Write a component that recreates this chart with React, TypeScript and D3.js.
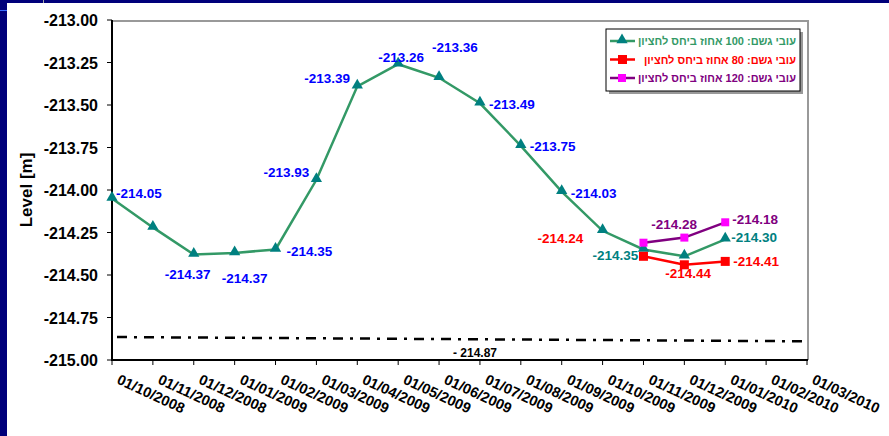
import React from "react";
import * as d3 from "d3";

const dates = [
  "01/10/2008", "01/11/2008", "01/12/2008", "01/01/2009", "01/02/2009", "01/03/2009",
  "01/04/2009", "01/05/2009", "01/06/2009", "01/07/2009", "01/08/2009", "01/09/2009",
  "01/10/2009", "01/11/2009", "01/12/2009", "01/01/2010", "01/02/2010", "01/03/2010",
];
const yTicks = [-213.0, -213.25, -213.5, -213.75, -214.0, -214.25, -214.5, -214.75, -215.0];

// series 100% (green)
const green100 = [
  -214.05, -214.22, -214.38, -214.37, -214.35, -213.94, -213.39, -213.26, -213.34,
  -213.49, -213.74, -214.01, -214.24, -214.35, -214.39, -214.29,
];
const greenLabels = [
  "-214.05", "", "-214.37", "-214.37", "-214.35", "-213.93", "-213.39", "-213.26", "-213.36",
  "-213.49", "-213.75", "-214.03", "-214.24", "-214.35", "", "-214.30",
];
// series 80% (red) and 120% (purple) start at 01/11/2009
const red80 = [-214.39, -214.44, -214.42];
const redLabels = ["", "-214.44", "-214.41"];
const purple120 = [-214.31, -214.28, -214.19];
const purpleLabels = ["", "-214.28", "-214.18"];
const scenarioStart = 13;

const refLevel = [-214.865, -214.89];
const refLabel = "- 214.87";

const legendLabels = [
  "עובי גשם: 100 אחוז ביחס לחציון",
  "עובי גשם: 80 אחוז ביחס לחציון",
  "עובי גשם: 120 אחוז ביחס לחציון",
];

// label offsets (style), relative to marker
const greenOff: [number, number, string][] = [
  [4, -1, "#0000ff"], [0, 0, "#0000ff"], [-29, 24, "#0000ff"], [-13, 30, "#0000ff"], [11, 6, "#0000ff"],
  [-53, -3, "#0000ff"], [-53, -3, "#0000ff"], [-20, -2, "#0000ff"], [-7, -26, "#0000ff"],
  [9, 6, "#0000ff"], [9, 5, "#0000ff"], [9, 6, "#0000ff"], [-65, 12, "#ff0000"],
  [-51, 10, "#008080"], [0, 0, "#008080"], [6, 3, "#008080"],
];
const redOff: [number, number][] = [[0, 0], [-19, 13], [8, 5]];
const purpleOff: [number, number][] = [[0, 0], [-33, -9], [7, 2]];

const W = 889, H = 436;
const x = d3.scalePoint<string>().domain(dates).range([112, 807]);
const y = d3.scaleLinear().domain([-215, -213]).range([360, 20]);
const line = d3.line<[number, number]>().x(d => d[0]).y(d => d[1]);
const FONT = "Arial, 'Liberation Sans', sans-serif";

export default function App() {
  const gPts: [number, number][] = green100.map((v, i) => [x(dates[i])!, y(v)]);
  const rPts: [number, number][] = red80.map((v, i) => [x(dates[scenarioStart + i])!, y(v)]);
  const pPts: [number, number][] = purple120.map((v, i) => [x(dates[scenarioStart + i])!, y(v)]);
  const refPts: [number, number][] = [
    [x(dates[0])! + 5, y(refLevel[0])],
    [x(dates[dates.length - 1])! - 2, y(refLevel[1])],
  ];
  const tri = d3.symbol().type(d3.symbolTriangle).size(55)()!;
  const x0 = x(dates[0])!, x1 = x(dates[dates.length - 1])!;

  return (
    <svg width={W} height={H} style={{ position: "absolute", left: 0, top: 0 }} fontFamily={FONT}>
      <rect x={0} y={0} width={W} height={H} fill="#00007a" />
      <rect x={7} y={3} width={W - 7} height={H - 3} fill="#ffffff" />
      <line x1={0} x2={7} y1={10.5} y2={10.5} stroke="#3a6cff" strokeWidth={1} />
      <line x1={43.5} x2={43.5} y1={0} y2={3} stroke="#aaaaaa" strokeWidth={1} />

      {/* plot frame */}
      <line x1={x0} x2={x1 + 1} y1={21} y2={21} stroke="#999" strokeWidth={2} />
      <line x1={x1 + 1} x2={x1 + 1} y1={20} y2={360} stroke="#999" strokeWidth={2} />

      {/* y axis */}
      <line x1={x0} x2={x0} y1={20} y2={361} stroke="#000" strokeWidth={2} />
      {yTicks.map(t => (
        <g key={t}>
          <line x1={107} x2={x0} y1={y(t)} y2={y(t)} stroke="#000" strokeWidth={1} />
          <text x={98} y={y(t) + 6} textAnchor="end" fontSize={16} fontWeight="bold">{t.toFixed(2)}</text>
        </g>
      ))}
      <text transform={`translate(32,${190}) rotate(-90)`} textAnchor="middle" fontSize={17} fontWeight="bold">Level [m]</text>

      {/* x axis */}
      <line x1={x0} x2={x1 + 1} y1={360} y2={360} stroke="#000" strokeWidth={2} />
      {dates.map(d => (
        <g key={d}>
          <line x1={x(d)!} x2={x(d)!} y1={360} y2={365} stroke="#000" strokeWidth={1} />
          <text transform={`translate(${x(d)! + 4},${383}) rotate(25)`} fontSize={14.5} fontWeight="bold">{d}</text>
        </g>
      ))}

      {/* reference level */}
      <path d={line(refPts)!} stroke="#000" strokeWidth={2.5} fill="none" strokeDasharray="10 7 3 7" />
      <text x={453} y={357} fontSize={12} fontWeight="bold">{refLabel}</text>

      {/* series */}
      <path d={line(gPts)!} stroke="#339966" strokeWidth={2.5} fill="none" />
      <path d={line(rPts)!} stroke="#ff0000" strokeWidth={2.5} fill="none" />
      <path d={line(pPts)!} stroke="#800080" strokeWidth={2.5} fill="none" />
      {gPts.map((p, i) => (
        <path key={i} d={tri} transform={`translate(${p[0]},${p[1] - 1})`} fill="#008080" />
      ))}
      {rPts.map((p, i) => (
        <rect key={i} x={p[0] - 4.5} y={p[1] - 4.5} width={9} height={9} fill="#ff0000" />
      ))}
      {pPts.map((p, i) => (
        <rect key={i} x={p[0] - 4} y={p[1] - 4} width={8} height={8} fill="#ff00ff" />
      ))}

      {/* labels */}
      {gPts.map((p, i) => greenLabels[i] ? (
        <text key={i} x={p[0] + greenOff[i][0]} y={p[1] + greenOff[i][1]} fontSize={13.5} fontWeight="bold" fill={greenOff[i][2]}>{greenLabels[i]}</text>
      ) : null)}
      {rPts.map((p, i) => redLabels[i] ? (
        <text key={i} x={p[0] + redOff[i][0]} y={p[1] + redOff[i][1]} fontSize={13.5} fontWeight="bold" fill="#ff0000">{redLabels[i]}</text>
      ) : null)}
      {pPts.map((p, i) => purpleLabels[i] ? (
        <text key={i} x={p[0] + purpleOff[i][0]} y={p[1] + purpleOff[i][1]} fontSize={13.5} fontWeight="bold" fill="#800080">{purpleLabels[i]}</text>
      ) : null)}

      {/* legend */}
      <rect x={609} y={32} width={194} height={62} fill="#999" />
      <rect x={606} y={29} width={194} height={62} fill="#fff" stroke="#000" strokeWidth={1} />
      {legendLabels.map((l, i) => {
        const ly = 41 + i * 18.5;
        const col = ["#339966", "#ff0000", "#800080"][i];
        return (
          <g key={i}>
            <line x1={610} x2={635} y1={ly} y2={ly} stroke={col} strokeWidth={2.5} />
            {i === 0 && <path d={tri} transform={`translate(622,${ly - 1})`} fill="#008080" />}
            {i === 1 && <rect x={618} y={ly - 4.5} width={9} height={9} fill="#ff0000" />}
            {i === 2 && <rect x={618} y={ly - 4} width={8} height={8} fill="#ff00ff" />}
            <text x={796} y={ly + 4} direction="rtl" textAnchor="start" fontSize={11} fontWeight="bold" fill={col}>{l}</text>
          </g>
        );
      })}
    </svg>
  );
}
